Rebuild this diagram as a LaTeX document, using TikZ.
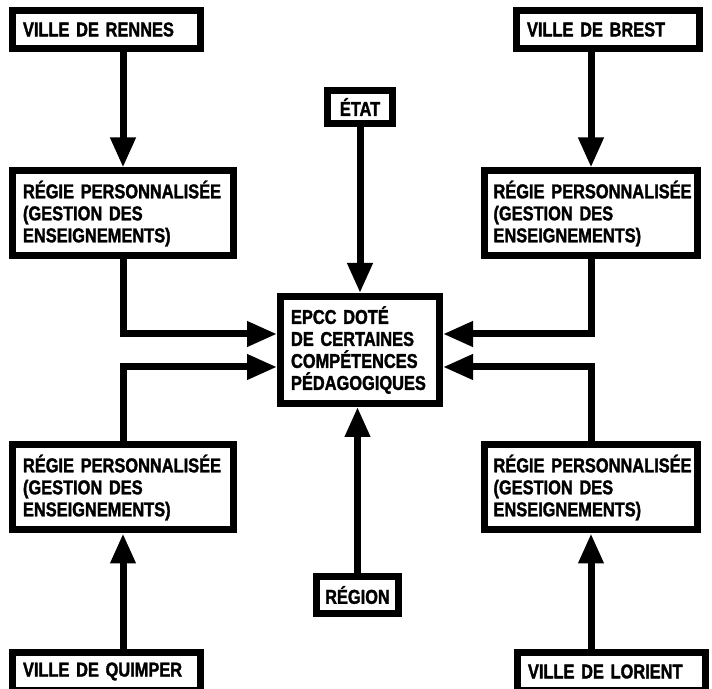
\documentclass[tikz,border=0pt]{standalone}
\usepackage{fontspec}
\newfontfamily\boxfont{Liberation Sans}[FakeStretch=0.82, FakeBold=1.6]
\usetikzlibrary{arrows.meta}

\tikzset{
  box/.style={draw, line width=7pt, line join=miter, align=left, inner xsep=10.5pt,
    inner ysep=0pt, font=\boxfont\bfseries\fontsize{20}{22}\selectfont},
  smallbox/.style={box, align=center, inner xsep=0pt},
  arr/.style={line width=7pt, line join=miter, -{Triangle[length=30pt,width=24pt]}}
}

\begin{document}
\begin{tikzpicture}[x=1pt, y=1pt]
  \useasboundingbox (0,0) rectangle (712,688);

  \node[box, text width=167pt, minimum height=38pt] (rennes) at (106.5,658.5) {VILLE DE RENNES};
  \node[box, text width=162pt, minimum height=38pt] (brest) at (608,658.5) {VILLE DE BREST};
  \node[box, text width=167pt, minimum height=38pt] (quimper) at (106.5,16.5) {VILLE DE QUIMPER};
  \node[box, text width=167pt, minimum height=38pt] (lorient) at (611.5,16.5) {VILLE DE LORIENT};

  \node[box, text width=200pt, minimum height=85pt] (regie1) at (123,474.5)
    {\mbox{RÉGIE PERSONNALISÉE}\\(GESTION DES\\ENSEIGNEMENTS)};
  \node[box, text width=195pt, inner xsep=9pt, minimum height=85pt] (regie2) at (591,474.5)
    {\mbox{RÉGIE PERSONNALISÉE}\\(GESTION DES\\ENSEIGNEMENTS)};
  \node[box, text width=200pt, minimum height=85pt] (regie3) at (123,200.5)
    {\mbox{RÉGIE PERSONNALISÉE}\\(GESTION DES\\ENSEIGNEMENTS)};
  \node[box, text width=195pt, inner xsep=9pt, minimum height=85pt] (regie4) at (591,200.5)
    {\mbox{RÉGIE PERSONNALISÉE}\\(GESTION DES\\ENSEIGNEMENTS)};

  \node[box, text width=138pt, minimum height=107pt] (epcc) at (360,338)
    {EPCC DOTÉ\\DE CERTAINES\\COMPÉTENCES\\\mbox{PÉDAGOGIQUES}};
  \node[smallbox, minimum width=65pt, minimum height=33pt] (etat) at (360,581) {ÉTAT};
  \node[smallbox, minimum width=82pt, minimum height=37pt] (region) at (357.5,93) {RÉGION};

  \draw[arr] (rennes.south -| regie1.north) -- (regie1.north);
  \draw[arr] (brest.south -| regie2.north) -- (regie2.north);
  \draw[arr] (quimper.north -| regie3.south) -- (regie3.south);
  \draw[arr] (lorient.north -| regie4.south) -- (regie4.south);

  \draw[arr] (regie1.south) |- ([yshift=16pt]epcc.west);
  \draw[arr] (regie3.north) |- ([yshift=-17pt]epcc.west);
  \draw[arr] (regie2.south) |- ([yshift=16pt]epcc.east);
  \draw[arr] (regie4.north) |- ([yshift=-17pt]epcc.east);

  \draw[arr] (etat.south) -- (epcc.north);
  \draw[arr] (region.north) -- (region.north |- epcc.south);
\end{tikzpicture}
\end{document}
